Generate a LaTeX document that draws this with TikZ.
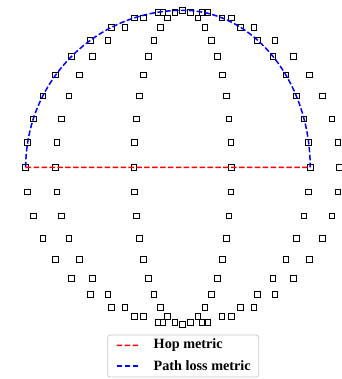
\documentclass[tikz,border=0pt]{standalone}
\usepackage{fontspec}
\setmainfont{Liberation Serif}
\usetikzlibrary{calc}
\definecolor{hopred}{rgb}{1,0,0}
\tikzset{
  mk/.style={draw=black, line width=0.9pt, rectangle, minimum size=5.6pt, inner sep=0pt},
  dashpat/.style={line width=1.5pt, dash pattern=on 5.5pt off 2.4pt},
  legtext/.style={anchor=west, inner sep=0pt, font=\fontsize{14.2}{16}\selectfont\bfseries},
  legbox/.style={draw=black!20, line width=0.8pt, fill=white, rounded corners=2.5pt}
}
\begin{document}
\begin{tikzpicture}[x=1pt,y=1pt]
\useasboundingbox (0,0) rectangle (341,379);
\coordinate (C) at (182.7,211.7);
\coordinate (L) at (25.7,211.7);
\coordinate (R) at (310.2,211.7);
% markers
\foreach \k in {0,...,39} {
  \pgfmathsetmacro\ang{9*\k}
  \node[mk] (o\k) at ([shift={(\ang:157pt and 157pt)}]C) {};
  \node[mk] (m\k) at ([shift={(\ang:127.5pt and 157pt)}]C) {};
  \node[mk] (i\k) at ([shift={(\ang:48.8pt and 157pt)}]C) {};
}
% connectors
\draw[blue, dashpat] (L) arc[start angle=180, end angle=90, radius=157pt]
  arc[start angle=90, end angle=0, x radius=127.5pt, y radius=157pt];
\draw[hopred, dashpat] (L) .. controls ($(L)!0.33!(R)+(0,0.01)$) and ($(L)!0.66!(R)+(0,0.01)$) .. (R);
% legend
\node[legbox, minimum width=151pt, minimum height=42pt, anchor=south west] (leg) at (107.3,1.5) {};
\coordinate (h1) at (116.7,33.5);
\coordinate (h2) at (140,33.5);
\coordinate (p1) at (116.7,13);
\coordinate (p2) at (140,13);
\draw[hopred, dashpat] (h1) .. controls ($(h1)!0.33!(h2)+(0,0.01)$) and ($(h1)!0.66!(h2)+(0,0.01)$) .. (h2);
\draw[blue, dashpat] (p1) -- (p2);
\node[legtext] (hoptext) at (153.5,33.5) {Hop metric};
\node[legtext] (pltext) at (153.5,13) {Path loss metric};
\end{tikzpicture}
\end{document}
